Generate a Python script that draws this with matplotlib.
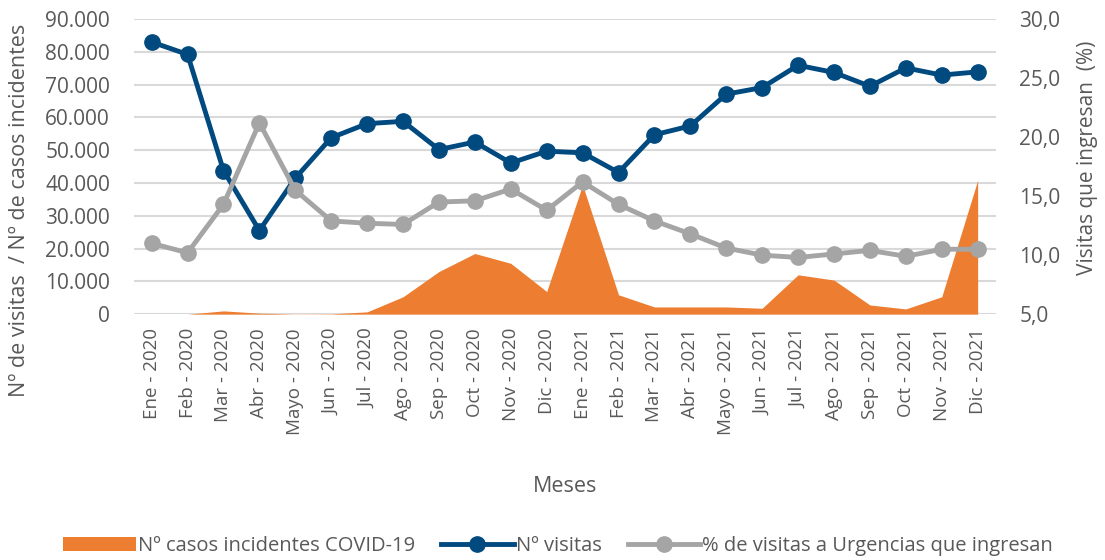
import matplotlib

matplotlib.use("Agg")

from matplotlib import pyplot as plt
from matplotlib.patches import Patch
from matplotlib.lines import Line2D
from matplotlib.ticker import FuncFormatter

meses = [
    "Ene - 2020", "Feb - 2020", "Mar - 2020", "Abr - 2020", "Mayo - 2020", "Jun - 2020",
    "Jul - 2020", "Ago - 2020", "Sep - 2020", "Oct - 2020", "Nov - 2020", "Dic - 2020",
    "Ene - 2021", "Feb - 2021", "Mar - 2021", "Abr - 2021", "Mayo - 2021", "Jun - 2021",
    "Jul - 2021", "Ago - 2021", "Sep - 2021", "Oct - 2021", "Nov - 2021", "Dic - 2021",
]

casos_covid = [
    0, 0, 1000, 300, 50, 100, 700, 5300, 13000, 18500, 15500, 6900,
    39400, 5900, 2200, 2200, 2200, 1800, 12000, 10400, 2800, 1600, 5300, 40800,
]

visitas = [
    83000, 79200, 43800, 25500, 41500, 53800, 58100, 58800, 50200, 52500, 46100, 49700,
    49200, 43200, 54700, 57400, 67100, 69100, 75900, 73700, 69500, 75100, 72900, 73900,
]

pct_ingresan = [
    11.0, 10.2, 14.3, 21.2, 15.5, 12.9, 12.7, 12.6, 14.5, 14.6, 15.6, 13.8,
    16.2, 14.3, 12.9, 11.8, 10.6, 10.0, 9.8, 10.1, 10.4, 9.9, 10.5, 10.5,
]

ORANGE = "#ED7D31"
BLUE = "#004A7F"
GRAY = "#A5A5A5"
TEXT = "#595959"

plt.rcParams["font.family"] = ["Open Sans", "DejaVu Sans"]

fig = plt.figure(figsize=(11.05, 5.6), dpi=100)
ax = fig.add_axes([0.121, 0.439, 0.780, 0.527])
ax2 = ax.twinx()

x = list(range(len(meses)))

ax.fill_between(x, casos_covid, 0, color=ORANGE, linewidth=0, zorder=2)
ax.plot(x, visitas, color=BLUE, linewidth=3.5, marker="o", markersize=11, zorder=3)
ax2.plot(x, pct_ingresan, color=GRAY, linewidth=3.5, marker="o", markersize=11, zorder=3)

ax.set_xlim(-0.5, len(meses) - 0.5)
ax.set_ylim(0, 90000)
ax.set_yticks(range(0, 90001, 10000))
ax.yaxis.set_major_formatter(FuncFormatter(lambda v, _: f"{int(v):,}".replace(",", ".")))
ax2.set_ylim(5, 30)
ax2.set_yticks([5, 10, 15, 20, 25, 30])
ax2.yaxis.set_major_formatter(FuncFormatter(lambda v, _: f"{v:.1f}".replace(".", ",")))

ax.set_xticks(x)
ax.set_xticklabels(meses, rotation=90, color=TEXT)

ax.grid(axis="y", color="#D9D9D9", linewidth=1.5, zorder=0)
ax.set_axisbelow(True)

for a in (ax, ax2):
    for side in ("top", "right", "left", "bottom"):
        a.spines[side].set_visible(False)
    a.tick_params(length=0, labelsize=15, labelcolor=TEXT)
ax.tick_params(axis="x", pad=10, labelsize=13.5)
ax.tick_params(axis="y", pad=17)
ax2.tick_params(axis="y", pad=17)

ax.set_ylabel("Nº de visitas  / Nº de casos incidentes", fontsize=15.5, color=TEXT)
ax.yaxis.set_label_coords(-0.12, 0.35)
ax2.set_ylabel("Visitas que ingresan  (%)", fontsize=15, color=TEXT)
ax2.yaxis.set_label_coords(1.094, 0.53)
ax.set_xlabel("Meses", fontsize=15.5, color=TEXT)
ax.xaxis.set_label_coords(0.5, -0.55)

handles = [
    Patch(facecolor=ORANGE, edgecolor="none"),
    Line2D([], [], color=BLUE, linewidth=3.5, marker="o", markersize=11),
    Line2D([], [], color=GRAY, linewidth=3.5, marker="o", markersize=11),
]
labels = [
    "Nº casos incidentes COVID-19",
    "Nº visitas",
    "% de visitas a Urgencias que ingresan",
]
fig.legend(
    handles, labels, loc="lower center", bbox_to_anchor=(0.505, -0.025), ncol=3,
    frameon=False, fontsize=14.5, labelcolor=TEXT, handlelength=3.6,
    handletextpad=0.1, columnspacing=1.3,
)

fig.savefig("out.png", dpi=100)
plt.close(fig)
